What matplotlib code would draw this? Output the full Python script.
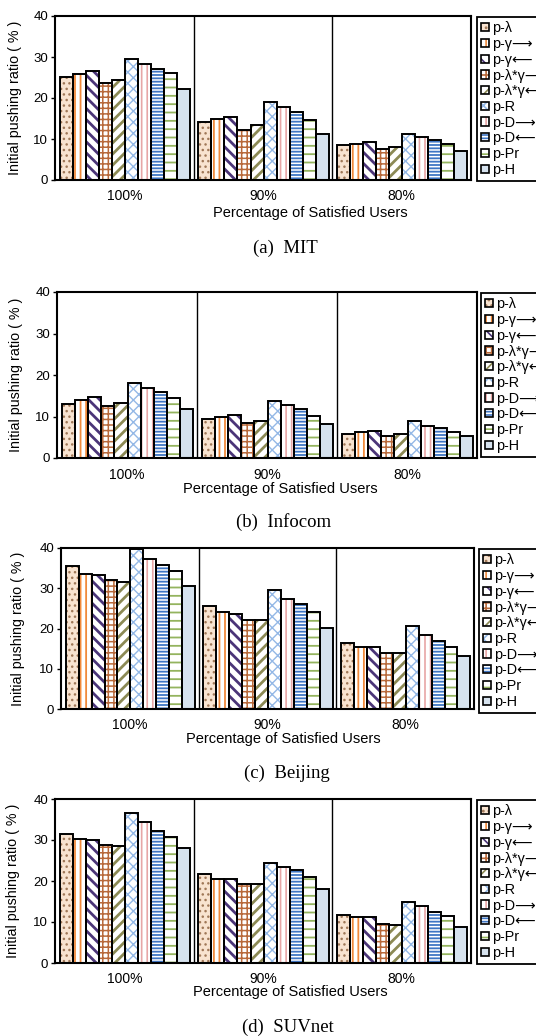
import matplotlib
matplotlib.use("Agg")
import matplotlib.pyplot as plt
import numpy as np
from matplotlib.patches import Patch

plt.rcParams['font.family'] = ['Liberation Sans', 'DejaVu Sans']
plt.rcParams['hatch.linewidth'] = 1.2

# ---------------- data ----------------
groups = ['100%', '90%', '80%']
methods = ['p-λ', 'p-γ⟶', 'p-γ⟵', 'p-λ*γ⟶', 'p-λ*γ⟵', 'p-R', 'p-D⟶', 'p-D⟵', 'p-Pr', 'p-H']

mit_100 = [25.0, 25.9, 26.6, 23.6, 24.3, 29.6, 28.2, 27.1, 26.1, 22.1]
mit_90 = [14.1, 14.8, 15.4, 12.3, 13.4, 19.1, 17.7, 16.5, 14.6, 11.2]
mit_80 = [8.5, 8.9, 9.3, 7.5, 8.0, 11.1, 10.5, 9.7, 8.9, 7.1]

infocom_100 = [13.1, 14.0, 14.8, 12.6, 13.3, 18.0, 16.8, 15.8, 14.4, 11.9]
infocom_90 = [9.3, 9.8, 10.3, 8.5, 9.0, 13.8, 12.7, 11.9, 10.2, 8.2]
infocom_80 = [5.9, 6.2, 6.5, 5.3, 5.8, 8.9, 7.8, 7.3, 6.3, 5.2]

beijing_100 = [35.5, 33.6, 33.2, 32.0, 31.5, 39.8, 37.3, 35.7, 34.3, 30.6]
beijing_90 = [25.6, 24.2, 23.7, 22.2, 22.0, 29.5, 27.4, 26.2, 24.2, 20.1]
beijing_80 = [16.3, 15.4, 15.3, 13.9, 13.9, 20.6, 18.3, 16.9, 15.5, 13.2]

suvnet_100 = [31.4, 30.2, 30.1, 28.8, 28.5, 36.7, 34.3, 32.2, 30.8, 28.1]
suvnet_90 = [21.8, 20.4, 20.4, 19.3, 19.3, 24.4, 23.5, 22.7, 20.9, 18.1]
suvnet_80 = [11.8, 11.2, 11.2, 9.5, 9.3, 15.0, 13.8, 12.4, 11.4, 8.7]

captions = ['(a)  MIT', '(b)  Infocom', '(c)  Beijing', '(d)  SUVnet']
yticks = [0, 10, 20, 30, 40]

# ---------------- styles ----------------
faces = ['#f8e3d0', 'white', 'white', 'white', 'white', 'white', 'white', 'white', 'white', '#d6e2ee']
hcols = ['#a07858', '#f08a3c', '#4b3578', '#b8693a', '#8c8a55', '#94b8e6', '#e7a6a6', '#3f76c4', '#94b45e', '#d6e2ee']
hatches = ['...', '|||', '\\\\\\', '+++', '///', 'xxx', '|||', '-----', '--', None]
hlws = [1.0, 1.3, 2.0, 1.1, 2.0, 1.0, 1.2, 1.3, 1.3, 1.0]

W, H = 536, 1036
fig = plt.figure(figsize=(W / 100, H / 100), dpi=100)

panels = [
    dict(vals=[mit_100, mit_90, mit_80], box=(55, 471, 16, 180), leg=(477, 17),
         xlab=(310, 213), tick_y=196, cap=(285, 248), ylab_x=22),
    dict(vals=[infocom_100, infocom_90, infocom_80], box=(57, 477, 292, 458), leg=(481, 293),
         xlab=(280, 489), tick_y=475, cap=(284, 522), ylab_x=23),
    dict(vals=[beijing_100, beijing_90, beijing_80], box=(61, 474, 548, 709), leg=(479, 549),
         xlab=(283, 739), tick_y=725, cap=(287, 773), ylab_x=25),
    dict(vals=[suvnet_100, suvnet_90, suvnet_80], box=(55, 471, 799, 963), leg=(477, 800),
         xlab=(290, 992), tick_y=979, cap=(288, 1027), ylab_x=20),
]

bw = 0.094
x = np.arange(len(groups))

for k, p in enumerate(panels):
    L, R, T, B = p['box']
    ax = fig.add_axes([L / W, 1 - B / H, (R - L) / W, (B - T) / H])
    data = np.array(p['vals'])  # groups x methods
    for j in range(len(methods)):
        pos = x + (j - 4.5) * bw + 0.004
        with plt.rc_context({'hatch.linewidth': hlws[j]}):
            ax.bar(pos, data[:, j], width=bw, color=faces[j], edgecolor=hcols[j],
                   hatch=hatches[j], linewidth=0, zorder=2)
        ax.bar(pos, data[:, j], width=bw, fill=False, edgecolor='black',
               linewidth=1.4, zorder=3)
    ax.set_xlim(-0.5, 2.5)
    ax.set_ylim(0, 40)
    ax.set_yticks(yticks)
    ax.tick_params(axis='y', direction='out', length=3, width=1, labelsize=9.5, pad=2)
    ax.set_xticks([])
    for d in [0.5, 1.5]:
        ax.axvline(d, color='black', linewidth=1.0, zorder=4)
    for s in ax.spines.values():
        s.set_linewidth(1.5)
        s.set_color('black')
    ax.set_ylabel('Initial pushing ratio ( % )', fontsize=10.3)
    ax.yaxis.set_label_coords((p['ylab_x'] - L) / (R - L), 0.5)
    for i, g in enumerate(groups):
        xc = L + (R - L) * (i + 0.5) / 3
        fig.text(xc / W, 1 - p['tick_y'] / H, g, ha='center', va='center', fontsize=10)
    fig.text(p['xlab'][0] / W, 1 - p['xlab'][1] / H, 'Percentage of Satisfied Users',
             ha='center', va='center', fontsize=10.5)
    fig.text(p['cap'][0] / W, 1 - p['cap'][1] / H, captions[k], ha='center', va='center',
             fontsize=13.5, family=['Liberation Serif', 'DejaVu Serif'])
    handles = []
    for j in range(len(methods)):
        with plt.rc_context({'hatch.linewidth': hlws[j]}):
            h1 = Patch(facecolor=faces[j], edgecolor=hcols[j], hatch=hatches[j], linewidth=0)
        h2 = Patch(fill=False, edgecolor='black', linewidth=1.2)
        handles.append((h1, h2))
    lg = ax.legend(handles, methods, loc='upper left',
                   bbox_to_anchor=(p['leg'][0] / W, 1 - p['leg'][1] / H),
                   bbox_transform=fig.transFigure, borderaxespad=0,
                   fontsize=10.4, handlelength=0.5, handleheight=0.5,
                   handletextpad=0.25, labelspacing=0.12, borderpad=0.3,
                   fancybox=False, framealpha=1, edgecolor='black')
    lg.get_frame().set_linewidth(1.3)

fig.savefig('out.png', dpi=100)
